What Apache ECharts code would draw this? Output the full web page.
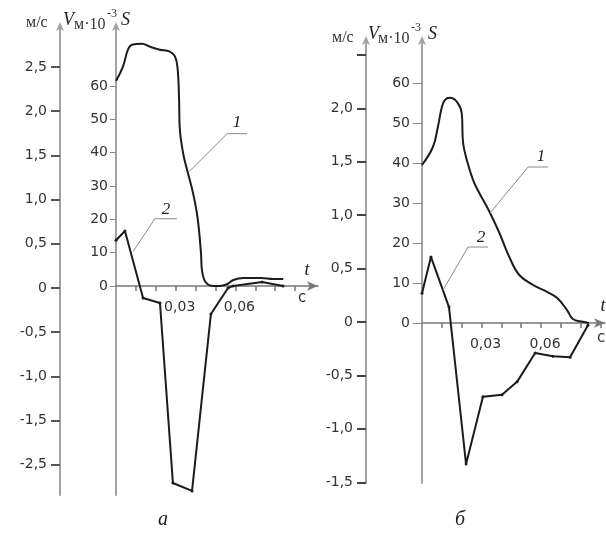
<!DOCTYPE html>
<html><head><meta charset="utf-8">
<script src="https://cdn.jsdelivr.net/npm/echarts@6/dist/echarts.min.js"></script>
<style>html,body{margin:0;padding:0;background:#fff}#c{width:606px;height:537px}</style>
</head><body><div id="c"></div>
<script>
// Panel а — curve 1 (S, м·10^-3) and curve 2 (V, м/с)
const tCurve1A = [0, 0.0035, 0.006, 0.008, 0.013, 0.017, 0.022, 0.027, 0.0297, 0.031, 0.0317, 0.032, 0.0337, 0.036, 0.0387, 0.041, 0.0427, 0.0432, 0.045, 0.049, 0.052, 0.056, 0.059, 0.064, 0.073, 0.079, 0.084];
const sCurve1A = [61.5, 65.8, 70.9, 72.4, 72.7, 71.8, 70.9, 70.3, 68.8, 64.9, 55.9, 47.7, 39.9, 34.2, 27.9, 20.4, 9.9, 4.8, 1.2, 0, 0, 0.6, 1.8, 2.4, 2.4, 2.1, 2.1];
const tCurve2A = [0, 0.0045, 0.0136, 0.0221, 0.0286, 0.0382, 0.0477, 0.0563, 0.0588, 0.0734, 0.0839];
const vCurve2A = [0.54, 0.645, -0.113, -0.17, -2.206, -2.296, -0.294, 0, 0.023, 0.068, 0.023];
// Panel б
const tCurve1B = [0, 0.0055, 0.008, 0.010, 0.0116, 0.014, 0.0176, 0.020, 0.0207, 0.023, 0.0257, 0.028, 0.034, 0.039, 0.044, 0.049, 0.056, 0.063, 0.068, 0.073, 0.076, 0.081, 0.084];
const sCurve1B = [39.5, 44, 49, 54, 55.8, 56.3, 55.3, 52.5, 45, 40, 35.8, 33.3, 27.8, 22.5, 16.5, 12, 9.5, 7.8, 6.3, 3.3, 1, 0.3, 0];
const tCurve2B = [0, 0.0045, 0.0136, 0.0222, 0.0307, 0.0403, 0.0479, 0.0570, 0.0660, 0.0746, 0.0836];
const vCurve2B = [0.27, 0.61, 0.14, -1.33, -0.70, -0.68, -0.56, -0.29, -0.32, -0.33, -0.03];
// Tick values and labels
const vTicksA = [2.5, 2, 1.5, 1, 0.5, 0, -0.5, -1, -1.5, -2];
const vLabelsA = ['2,5', '2,0', '1,5', '1,0', '0,5', '0', '-0,5', '-1,0', '-1,5', '-2,5'];
const vTicksB = [2.5, 2, 1.5, 1, 0.5, 0, -0.5, -1, -1.5];
const vLabelsB = ['', '2,0', '1,5', '1,0', '0,5', '0', '-0,5', '-1,0', '-1,5'];
const sTicks = [60, 50, 40, 30, 20, 10, 0];
const sLabels = ['60', '50', '40', '30', '20', '10', '0'];
const tTicks = [0.01, 0.02, 0.03, 0.04, 0.05, 0.06, 0.07, 0.08, 0.09];
const tLabelValues = [0.03, 0.06];
const tLabels = ['0,03', '0,06'];

const zip = (a, b) => a.map((x, i) => [x, b[i]]);
const lookup = (vals, labs) => v => { const i = vals.findIndex(x => Math.abs(x - v) < 1e-9); return i < 0 ? '' : labs[i]; };

const labelFont = {fontFamily: 'DejaVu Sans', fontSize: 14, color: '#333'};
function yAx(grid, offset, min, max, ticks, labels, margin, tickLen, tickColor, tickW) {
  return {
    type: 'value', gridIndex: grid, position: 'left', offset: offset, min: min, max: max,
    splitLine: {show: false},
    axisLine: {show: true, onZero: false, symbol: ['none', 'arrow'], symbolSize: [6, 9], symbolOffset: [0, 6],
      lineStyle: {color: '#a3a3a3', width: 2}},
    axisTick: {show: true, customValues: ticks, length: tickLen, lineStyle: {color: tickColor, width: tickW}},
    axisLabel: Object.assign({customValues: ticks, margin: margin, formatter: lookup(ticks, labels)}, labelFont)
  };
}
function xAx(grid, max, zeroIdx) {
  return {
    type: 'value', gridIndex: grid, min: 0, max: max, splitLine: {show: false},
    axisLine: {show: true, onZero: true, onZeroAxisIndex: zeroIdx, symbol: ['none', 'arrow'], symbolSize: [7, 11],
      lineStyle: {color: '#777', width: 1.5}},
    axisTick: {show: true, customValues: tTicks, length: 5, lineStyle: {color: '#777', width: 1.5}},
    axisLabel: {show: false}
  };
}
const curveStyle = {color: '#1c1c1c', width: 2};
const chart = echarts.init(document.getElementById('c'), null, {renderer: 'canvas'});
chart.setOption({
  animation: false,
  backgroundColor: '#fff',
  grid: [
    {left: 116, right: 288, top: 28, bottom: 42},
    {left: 422, right: 1, top: 42, bottom: 54}
  ],
  xAxis: [xAx(0, 0.1015, 1), xAx(1, 0.0922, 3)],
  yAxis: [
    yAx(0, 56, -2.342, 2.941, vTicksA, vLabelsA, 13, 9, '#555', 2),
    yAx(0, 0, -62.7, 77.4, sTicks, sLabels, 8, 6, '#888', 1),
    yAx(1, 56, -1.507, 2.622, vTicksB, vLabelsB, 13, 9, '#444', 2),
    yAx(1, 0, -40, 70.25, sTicks, sLabels, 12, 9, '#888', 1)
  ],
  series: [
    {type: 'line', xAxisIndex: 0, yAxisIndex: 1, data: zip(tCurve1A, sCurve1A), smooth: 0.4, showSymbol: false, lineStyle: curveStyle, clip: false},
    {type: 'line', xAxisIndex: 0, yAxisIndex: 0, data: zip(tCurve2A, vCurve2A), symbol: 'circle', symbolSize: 3, itemStyle: {color: '#1c1c1c'}, lineStyle: curveStyle, clip: false},
    {type: 'line', xAxisIndex: 1, yAxisIndex: 3, data: zip(tCurve1B, sCurve1B), smooth: 0.4, showSymbol: false, lineStyle: curveStyle, clip: false},
    {type: 'line', xAxisIndex: 1, yAxisIndex: 2, data: zip(tCurve2B, vCurve2B), symbol: 'circle', symbolSize: 3, itemStyle: {color: '#1c1c1c'}, lineStyle: curveStyle, clip: false}
  ]
});

const g = [];
function txt(x, y, t, font, align, fill) {
  g.push({type: 'text', style: {x: x, y: y, text: t, font: font, fill: fill || '#333', textAlign: align || 'left', textVerticalAlign: 'middle'}, z: 10});
}
// x tick labels placed under the t-axis (which sits at S = 0)
[[0, 1], [1, 3]].forEach(([xi, yi]) => {
  tLabelValues.forEach((v, i) => {
    const p = chart.convertToPixel({xAxisIndex: xi, yAxisIndex: yi}, [v, 0]);
    txt(p[0] + 4, p[1] + 21, tLabels[i], '14px "DejaVu Sans"', 'center');
  });
});
// Annotations: leader lines anchored on curves (data coords) + pixel offsets
const leaders = [
  {x: 0, y: 1, pt: [0.0367, 34.3], d1: [38, -38], d2: [58, -38], lab: '1', ld: [48, -49]},
  {x: 0, y: 0, pt: [0.0085, 0.41], d1: [22, -33], d2: [44, -33], lab: '2', ld: [33, -42]},
  {x: 1, y: 3, pt: [0.0343, 27.5], d1: [38, -46], d2: [58, -46], lab: '1', ld: [51, -56]},
  {x: 1, y: 2, pt: [0.0106, 0.30], d1: [25, -43], d2: [45, -43], lab: '2', ld: [38, -52]}
];
leaders.forEach(L => {
  const p = chart.convertToPixel({xAxisIndex: L.x, yAxisIndex: L.y}, L.pt);
  g.push({type: 'polyline', shape: {points: [p, [p[0] + L.d1[0], p[1] + L.d1[1]], [p[0] + L.d2[0], p[1] + L.d2[1]]]},
    style: {stroke: '#8a8a8a', lineWidth: 1, fill: null}, z: 10});
  txt(p[0] + L.ld[0], p[1] + L.ld[1], L.lab, 'italic 17px "Liberation Serif"', 'center', '#222');
});
// Panel а header
txt(26, 23, 'м/с', '16px "Liberation Serif"');
txt(63, 20, 'V', 'italic 18px "Liberation Serif"', 'left', '#222');
txt(74, 25, 'м·10', '16px "Liberation Serif"');
txt(107, 14, '-3', '12px "Liberation Serif"');
txt(121, 20, 'S', 'italic 18px "Liberation Serif"', 'left', '#222');
// Panel б header
txt(332, 38, 'м/с', '16px "Liberation Serif"');
txt(368, 34, 'V', 'italic 18px "Liberation Serif"', 'left', '#222');
txt(378, 39, 'м·10', '16px "Liberation Serif"');
txt(411, 28, '-3', '12px "Liberation Serif"');
txt(428, 34, 'S', 'italic 18px "Liberation Serif"', 'left', '#222');
// t / с axis names
txt(307, 270, 't', 'italic 18px "Liberation Serif"', 'center', '#222');
txt(302, 298, 'с', '15px "DejaVu Sans"', 'center');
txt(603, 306, 't', 'italic 18px "Liberation Serif"', 'center', '#222');
txt(601, 338, 'с', '15px "DejaVu Sans"', 'center');
// captions
txt(163, 520, 'а', 'italic 20px "Liberation Serif"', 'center', '#222');
txt(460, 520, 'б', 'italic 20px "Liberation Serif"', 'center', '#222');
chart.setOption({graphic: g});
</script></body></html>
